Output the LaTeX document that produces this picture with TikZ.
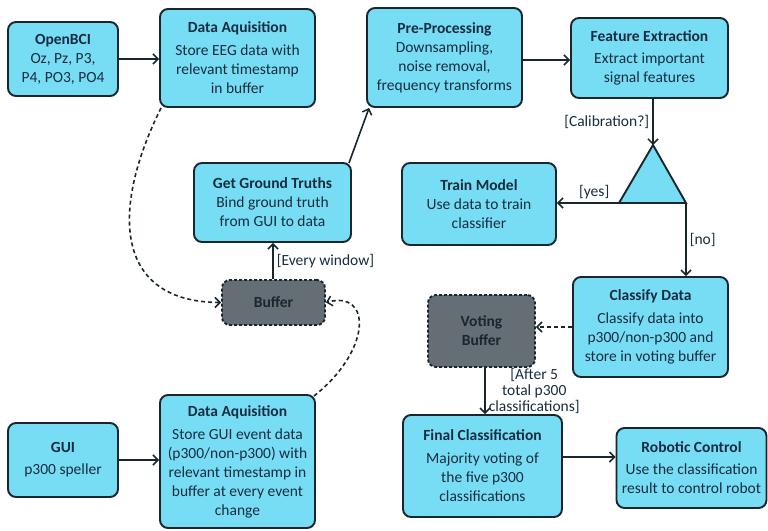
\documentclass[tikz,border=0pt]{standalone}
\usepackage{fontspec}
\setmainfont{Carlito}
\usetikzlibrary{arrows.meta,calc}
\definecolor{boxfill}{RGB}{118,221,244}
\definecolor{buffill}{RGB}{100,110,116}
\definecolor{edge}{RGB}{26,38,46}
\definecolor{ink}{RGB}{24,44,64}
\tikzset{
  procbox/.style={draw=edge, line width=1.9pt, fill=boxfill, rounded corners=8pt,
    align=center, text=ink, inner sep=2pt,
    font=\fontsize{15.5}{19}\selectfont},
  bufbox/.style={draw=edge, line width=1.9pt, fill=buffill, rounded corners=8pt,
    dashed, dash pattern=on 3pt off 2pt, align=center, text=edge,
    font=\fontsize{15.5}{19}\selectfont\bfseries},
  flow/.style={draw=edge, line width=1.6pt, -{Straight Barb[length=5pt,width=10pt,line width=1.5pt]}},
  dflow/.style={flow, dash pattern=on 4pt off 3pt},
  lbl/.style={text=ink, font=\fontsize{15.5}{19}\selectfont, inner sep=3pt},
}
\begin{document}
\begin{tikzpicture}[x=1pt,y=-1pt]
\useasboundingbox (0,0) rectangle (768,530);

% acquisition column
\node[procbox, minimum width=110pt, minimum height=74pt] (bci) at (63,59)
  {\textbf{OpenBCI}\\Oz, Pz, P3,\\P4, PO3, PO4};
\node[procbox, minimum width=155pt, minimum height=98pt] (daq1) at (237.5,58)
  {\textbf{Data Aquisition}\\[4pt]Store EEG data with\\relevant timestamp\\in buffer};
\node[procbox, minimum width=155pt, minimum height=99pt] (pre) at (444.5,57.5)
  {\textbf{Pre-Processing}\\Downsampling,\\noise removal,\\frequency transforms};
\node[procbox, minimum width=157pt, minimum height=80pt] (feat) at (649.5,58)
  {\textbf{Feature Extraction}\\[3pt]Extract important\\signal features};
\node[procbox, minimum width=154pt, minimum height=82pt] (train) at (479,204)
  {\textbf{Train Model}\\Use data to train\\classifier};
\node[procbox, minimum width=157pt, minimum height=79pt] (ggt) at (272.5,202.5)
  {\textbf{Get Ground Truths}\\Bind ground truth\\from GUI to data};
\node[bufbox, minimum width=103pt, minimum height=45pt] (buf) at (273.5,302.5) {Buffer};
\node[procbox, minimum width=110pt, minimum height=74pt] (gui) at (63,460)
  {\textbf{GUI}\\[3pt]p300 speller};
\node[procbox, minimum width=155pt, minimum height=133pt] (daq2) at (237.5,461.5)
  {\textbf{Data Aquisition}\\[4pt]Store GUI event data\\(p300/non-p300) with\\relevant timestamp in\\buffer at every event\\change};

% classification column
\node[procbox, minimum width=155pt, minimum height=100pt] (cls) at (650.5,327)
  {\textbf{Classify Data}\\[4pt]Classify data into\\p300/non-p300 and\\store in voting buffer};
\node[bufbox, minimum width=107pt, minimum height=72pt] (vbuf) at (481.5,331) {Voting\\Buffer};
\node[procbox, minimum width=159pt, minimum height=102pt] (fin) at (482.5,466)
  {\textbf{Final Classification}\\[4pt]Majority voting of\\the five p300\\classifications};
\node[procbox, minimum width=150pt, minimum height=80pt] (rob) at (691.5,468)
  {\textbf{Robotic Control}\\[3pt]Use the classification\\result to control robot};

% decision triangle
\coordinate (triA) at (653,145);
\coordinate (triL) at (619,203);
\coordinate (triR) at (686,203);
\filldraw[draw=edge, fill=boxfill, line width=1.9pt, line join=miter] (triA) -- (triR) -- (triL) -- cycle;

% connectors
\draw[flow] (bci.east) -- (bci.east -| daq1.west);
\draw[flow] ($(ggt.north east)+(-3,1)$) -- ($(pre.south west)+(3,0)$);
\draw[flow] (pre.east |- 0,60) -- (feat.west |- 0,60);
\draw[flow] (feat.south -| triA) -- node[lbl, left] {[Calibration?]} (triA);
\draw[flow] (triL) -- node[lbl, above, pos=0.4] {[yes]} (triL -| train.east);
\draw[flow] (triR) -- node[lbl, right] {[no]} (triR |- cls.north);
\draw[dflow] (cls.west) -- (cls.west -| vbuf.east);
\draw[flow] (vbuf.south -| 485,0) -- node[lbl, right, align=center, font=\fontsize{15.5}{16}\selectfont] {[After 5\\total p300\\classifications]} (fin.north -| 485,0);
\draw[flow] (fin.east |- 0,457) -- (rob.west |- 0,457);
\draw[flow] (buf.north -| 273,0) -- node[lbl, right] {[Every window]} (ggt.south -| 273,0);
\draw[dflow] (161,108) .. controls (108,215) and (118,302) .. (buf.west);
\draw[dflow] (314,396) .. controls (372,350) and (372,290) .. (buf.east);
\draw[flow] (gui.east) -- (gui.east -| daq2.west);
\end{tikzpicture}
\end{document}
